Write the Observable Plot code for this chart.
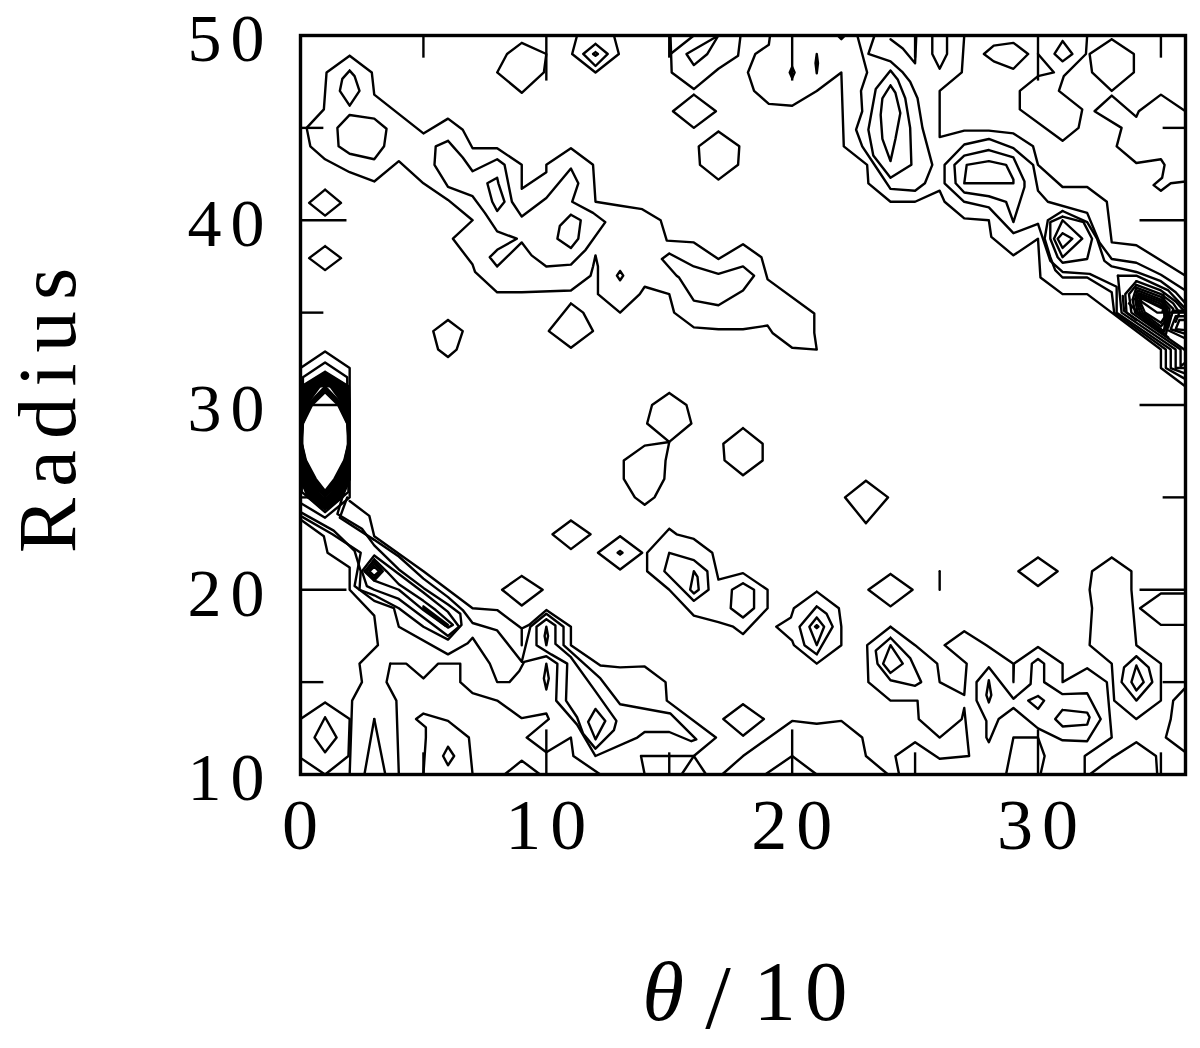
<!DOCTYPE html>
<html><head><meta charset="utf-8">
<style>html,body{margin:0;padding:0;background:#fff}</style>
<script src="https://cdn.jsdelivr.net/npm/d3@7"></script>
<script src="https://cdn.jsdelivr.net/npm/@observablehq/plot@0.6"></script>
</head><body><div id="chart"></div>
<script>
const xTickLabels=[0,10,20,30], yTickLabels=[10,20,30,40,50];
const xMajor=[10,20,30], xMinor=[5,15,25,35];
const yMajor=[20,30,40], yMinor=[15,25,35,45];

const upperBandLoops=[
[2,48.9,1.06,48,.95,46,.25,45,.4,44,1,43.3,2,42.6,3,42.1,4,43.2,5,42,6,41.1,7,40,6.2,39,7,37.6,7.1,37.2,8,36.1,9,36.1,11,36.2,11.8,37,11.9,37.5,12,38.1,12.1,37.5,12.1,36,13,35,13.8,36,14,36.4,15,36,15.2,35,16,34.2,17,34.1,18,34.1,19,34.3,19.2,33.9,20,33.1,21,33,20.9,33.9,20.9,34.95,19,36.8,18.75,38,18,38.7,17,37.9,16,38.8,14.9,38.9,14.65,40,13.9,40.6,12.95,40.8,12,41,11.9,43,11,43.9,10,43,10,42.6,9,41.7,9,43,8,43.9,7,43.9,6.6,44.9,6,45.5,5,44.7,3,46.8,2.9,48],
[6,44.3,5.5,44,5.45,43,6,41.8,7,41.3,7.5,40.4,8,39.4,8.8,39,8,38.4,7.7,38,8,37.5,9,38.8,9.4,38.1,10,37.5,11,37.6,11.6,38.4,12.4,39.9,11.9,40.4,11.05,41,11.3,42,11,42.8,10,41.2,9,40.2,8.6,41,8.3,43,8,43.3,7,42.65,6.6,43.4,6.2,44],
[2,48.1,1.7,47.65,1.6,47,2,46.2,2.4,47,2.2,47.8],
[2,45.7,1.5,45,1.55,44,2,43.6,3,43.3,3.4,44,3.5,44.95,3,45.5],
[1,41.66,.35,40.94,1,40.25,1.65,40.94],
[1,38.6,.35,37.95,1,37.3,1.65,37.95],
[9,49.6,8.4,49,8,48,9,46.9,9.9,48,10,49],
[12,49.55,11.5,49,12,48.35,12.5,49],
[12,49.1,11.9,49,12,48.9,12.1,49],
[16,46.8,15.15,45.9,16,45,16.9,45.9],
[17,44.8,16.2,44,16.25,43,17,42.2,17.8,43,17.85,44],
[20,48.3,19.9,48,20,47.7,20.1,48],
[21,49,20.95,48.5,21,47.95,21.05,48.5],
[11,40.3,10.55,39.7,10.45,39,11,38.5,11.3,39,11.4,40],
[8,42.3,7.6,42,7.8,41,8,40.5,8.3,41,8.05,42],
[13,37.25,12.87,37,13,36.75,13.13,37],
[15,38.2,14.7,37.9,15.3,37,15.4,36.9,16,35.65,17,35.4,18,36.2,18.45,37,18,37.5,17,37.1,16,37.5],
[6,34.6,5.4,34,5.6,33,6,32.6,6.35,33,6.6,34],
[11,35.5,10.1,34,11,33.1,11.9,34,11.5,35],
[24,48.1,23.4,47.1,23.1,44.9,23.3,43.5,24,42.3,24.85,43,24.8,45,24.6,46.6,24.3,47.6],
[24,47.3,23.67,46.6,23.6,45.7,23.67,44.4,24,43.2,24.2,44.4,24.4,45.8,24.2,46.9],
[27.8,49,28.2,49.45,29,49.6,29.6,49,29,48.2,28.2,48.6],
[31,49.7,30.67,49,31,48.6,31.4,49],
[33,49.8,32.1,49,32.2,48,33,47,33.9,48,33.9,49],
[28,43.8,27,43.5,26.6,43,26.65,42,27,41.5,28,41.3,28.7,41,29,39.9,29.45,41.8,29.45,42.1,29,43.4],
[28,43.2,27.1,43,27,42,29,42,29,42.2,28.7,43],
[31,39.3,30.8,39,31,38.5,31.4,39],
[31,40,30.65,39,31,38,31.8,39],
[31,40.2,30.5,39.9,30.5,39,30.8,38,31,37.7,32,37.9,32.2,39,31.85,39.9]
];
const upperBandOpen=[
[11.25,50,11.05,49,12,48,12.95,49,12.75,50],
[15.05,50,15.1,48,16,47.1,17,48.2,17.8,48.9,17.9,50],
[17,50,15.7,49,16,48.4,16.55,49,17,50],
[15.05,49,16,50],
[21.85,50,22,49.8,22.15,50],
[19.1,50,19.05,49.5,18.5,49,18.2,48,18.45,47,19.05,46.3,20,46.2,21,47,22,48,22.1,44,23.05,43,23.1,42,24,41,25,41,26,41.6,26.2,41,27,40.1,28,40,28.1,39.1,29,38.1,30,39,30.1,36.9,31,36,32,36,33,35,35,33,35,32,36,31],
[22.65,50,23.05,48,22.8,47,22.85,45.9,22.6,44.9,22.85,44,23.45,42.8,24,41.7,25,41.6,25.4,42,25.7,43,25.3,45,25.1,46.6,24.8,47.5,24.5,48,24,48.6,23.1,49,23.35,50],
[24,49.8,24.5,49.3,25,48.5,25.05,50],
[25.7,50,25.7,49,26,48.2,26.3,49,26.3,50],
[27,50,26.9,48,26,47,26,44.5,27,44.85,28,44.85,29,44.7,29.8,44,30,43,31,41.8,32,41.8,32.8,41,33,38.8,34,38.65,36,37],
[30,49,30.65,48,30,47.8,29.26,47,29.26,46,31,44.3,31.65,45,31.8,46,30.85,47,31.05,47.8,31.95,49,32,50],
[36,45.9,35,46.8,34.1,45.9,34,45.6,33,46.75,32.3,45.9,33.4,45,33.2,44,34,43.1,35,43.3,35.15,43,35.05,42.3,34.7,41.9,35,41.6,35.4,42,36,42.1],
[30,39.8,29,39.3,28,40.7,27,41,26.2,42,26.2,43,27,44.1,28,44.4,29,43.9,29.8,43,30,41.6,30.4,41,32,40.4,32.5,38.8,33,37.9,34,37.7,35,37.05,36,36.2],
[30,39.8,30.2,39,30.5,37.8,31,37.2,32.1,37.1,33.2,36.4,33.2,35,35.4,33,35.4,32,36,31.7],
[31,40.5,30.4,40,30.27,39,30.5,38,30.7,37.3,31,36.9,32,36.9,33,36.1,33.1,35,35.2,33,35.2,32,36,31.4],
[31,40.5,32,39.9,32.4,39,32.7,37.8,33,37.5,34,37.2,35,36.7,35.6,36.1,36,35.5]
];
const knotLoops=[
[33.25,37,34,37,35.3,36.2,36,35.2],
[34,36.7,33.55,36,33.6,35,35.8,33,35.8,32.1,36,32.3],
[34,36.7,35,36.2,35.6,35.6,36,35],
[33.25,37,33.4,35,35.6,33,35.6,32,36,32],
[34,36.5,33.7,36,33.8,35,35.95,33,36,32.9],
[34,36.5,35,36,35.5,35.5,35.75,35,35.6,34.5],
[33.85,35.7,34,36.35,35,35.85,35.5,35.2,35.4,34.7,35.3,34.2],
[33.85,35.7,33.95,35,35.3,33.65],
[34.05,36.2,33.95,35.75,34.05,35,35.2,33.8,35.3,34.4,35.35,35.2,35,35.7,34.05,36.2],
[34.1,36.05,34,35.7,34.15,35,35.1,34,35.25,34.5,35.25,35.2,35,35.6,34.1,36.05],
[34.12,35.95,34.05,35.7,34.25,35,35,34.25,35.2,34.6,35.2,35.15,34.95,35.5,34.12,35.95],
[34.15,35.85,34.15,35.6,34.35,35,35,34.45,35.15,34.75,35.12,35.2,34.9,35.4,34.15,35.85],
[34.18,35.8,34.2,35.6,34.85,35,35.05,35,35.1,35.2,34.18,35.8],
[35.1,36,35.15,35,35.15,34,35.2,35.2,35.1,36],
[36,35.1,35.5,35.1,35.2,34.1,36,33.6],
[36,34.8,35.6,34.8,35.4,34.1,36,33.85],
[36,34.6,35.75,34.6,35.6,34.1,36,34.05],
[33.45,35.9,33.5,35.1,34,34.6],
[33.7,35.5,34.4,34.55,35,34.1]
];
const middleLoops=[
[15,30.65,14.3,30,14.1,29,15,28,15.9,29,15.7,30],
[15,28,14,27.8,13.15,27,13.15,26,13.6,25,14,24.6,14.4,25,14.8,26,14.85,27],
[18,28.75,17.2,27.9,17.25,27,18,26.2,18.8,27,18.8,27.9],
[23,25.9,22.15,25,23,23.6,23.9,25],
[11,23.75,10.25,23,11,22.2,11.8,23],
[9,20.75,8.2,20,9,19.15,9.85,20],
[13,22.9,12.1,22,13,21.1,13.9,22],
[13,22.1,12.9,22,13,21.9,13.1,22],
[15,23.3,14.1,22,14.1,21,15,20,16,18.6,17,18.25,17.6,18,18,17.6,19,19,19,20,18,20.9,17,20.55,16.75,22,16,22.75,15.3,23],
[15,22,14.8,21,16,19.4,16.6,20,16.55,21,16,21.6],
[16,21,15.85,20,16,19.8,16.2,20,16.15,20.7],
[18,20.35,17.55,20,17.5,19,18,18.5,18.45,19,18.45,20],
[21,19.9,20.07,19,19.95,18.5,19.35,18,20,17.25,20.07,17,21,16,22,17,22,18,21.9,19],
[21,19.1,20.3,18,20.5,17,21,16.5,21.65,18,21.4,18.7],
[21,18.5,20.7,18,21,17,21.3,18],
[21,18.08,20.93,18,21,17.92,21.07,18],
[24,20.85,23.1,20,24,19.1,24.9,20],
[18,13.8,17.2,13,18,12.1,18.85,13],
[30,21.75,29.2,21,30,20.2,30.8,21]
];
const lowerRidgeLoops=[
[3,21.55,2.6,21,3,20.5,3.35,21],
[3,21.4,2.7,21,3,20.6,3.3,21],
[3,21.25,2.8,21,3,20.75,3.2,21],
[3,21.85,2.5,21,2.7,20.2,3,20,4,19.5,5,18.5,6,17.5,6.45,18,6,18.8,5,19.85,4,20.85],
[3,21.65,2.65,21,3,20.5,4,20,5,18.9,6,17.95,6.2,18.1,5.5,18.9,5,19.4,4,20.3,3.5,21],
[5,19.1,6,18.1,5.9,18.05,5,19],
[10,18.4,9.6,18,9.6,17,10.2,16.5,10.85,16,10.8,14,11.25,13.1,11.5,12.2,12,11.4,12.75,12.4,12.85,12.9,12,14.5,11,16.35,10.37,17.07,10.37,18.07],
[10,18,9.93,17.5,10,17,10.07,17.5],
[10,16,9.9,15.2,10,14.6,10.1,15.2],
[12,13.55,11.7,12.85,12,11.9,12.4,12.9],
[1,13.9,0,13,0,10.9,1,10,1.95,11,2,13],
[1,13.1,.57,12,1,11.2,1.47,12],
[6,11.5,5.8,11,6,10.5,6.25,11],
[24,17.4,23.4,16.7,23.47,16,24,15.1,25,14.8,25.25,15,24.8,16.3],
[24,17,23.7,16,24,15.5,24.5,16],
[33,21.75,32.2,21,32.1,20,32.2,19,32.1,17,33,16,33.1,14,34,13,35,14,35,16,34,17,33.8,20,33.8,21],
[34,16.4,33.5,15.8,33.4,15,34,14,34.65,15,34.5,15.8],
[34,15.9,33.8,15,34,14.55,34.3,15],
[28,15.8,27.5,15,27.5,14,27.9,12.9,27.9,12,28,11.75,28.4,13,29,13.6,30,12.5,31,11.85,32,11.8,32.55,13,32,14.4,31,14.35,30.25,15,30.25,16,30,16.25,29.75,16,29.7,14.9,29,14.1],
[28,15.1,27.9,14.3,28,13.9,28.1,14.3],
[30,14.25,29.6,14,30,13.55,30.25,14],
[31,13.5,30.7,13,31,12.6,32,12.7,32.1,13.1,32,13.35]
];
const lowerRidgeOpen=[
[2,24.8,2.8,24,3,22.9,5,21,7,19,8,18.9,9,17.9,9,17,9,17.9,9.3,18.1,10,18.9,11,18,11,17,12.2,15.9,13,15.8,14,15.85,14.85,15,14.9,14,16.9,12,16,11,15.5,10],
[1.9,25,1.6,23.9,3,22.7,4,21.8,5,20.6,6,19.6,6.6,18.9,7,18.2,8,17.8,9,16.1,9.35,18,10,18.7,10.7,18,10.7,17,12.2,15.2,13,13.8,15.05,13.3,16.1,11.9,15.9,11.8,15,12.3,14,12.3,13.7,12,12,11,11.25,12.7,10.4,14,10.45,16,10,16.4,9.1,16.1,8.9,15.6,8.5,15,8,15,7.7,16,7,17.4,6.8,17.1,6,16.5,4,18,3.8,19,3,19.4,2.2,20.2,2.45,22,1.3,23,0,24],
[1.7,25,1.5,24.1,2.5,23.3,3,22.4,4,21.1,5,20.1,6,19.2,6.5,18.7,6.55,18.1,6,17.3,5,18,4,19,3,19.7,2.4,20,2.45,21,2.2,22.1,1.35,23.2,0,24.2],
[0,23.8,.95,22.9,1.1,22,2,21.2,2,20,3,18.6,3.15,17,2.4,16,2.5,15,2.1,14,2,10],
[3,13,2.6,10],[3,13,3.45,10],
[3.65,16,4.3,16,5,15.2,5.6,16,6.5,16,6.5,15,7,14.4,8,14,9,13.05,10,13.3,10.1,13,9.2,12,10,11.2,11,12,11.1,11,12.2,10],
[3.65,16,3.5,15,3.9,14,4,10],
[5,10,5.1,12,5.1,12.55,4.7,13,5,13.3,6,12.9,6.85,12,7,10],
[8.3,10,9,10.75,9.75,10],
[17.15,10,18,11,20,12.9,21,12.75,22,12.9,22.85,12,23,11,23.9,10],
[18.9,10,20,11,21,10],
[14,10,13.85,11,16,11,16.5,10],
[26,21,26,20],
[24,18,23.05,17,23.1,15,24,14,25.1,14,25.15,13,26,12,26.9,13,27,13.6,27.2,11,26,10.85,25,11.75,24.2,11,24.35,10],
[24,18,25,17,25.9,16,26,15,27,14.3,27.1,16,26.2,17,27,17.75,27.9,17,29,16,29,15,29.02,16,30,16.9,31,16,31,15,32,15.75,32.8,15,33,12,31.9,11,31.9,10],
[28.7,10,29,12,30,12,30.27,11,30.1,10],
[32.1,10,33,10.9,34,11.75,34.8,11,34.85,10],
[36,19.8,35,19.8,34.15,19,35,18.1,36,18.1],
[36,14.7,35.5,14,35.4,13,35.2,12,36,11.2]
];
const blobOuter=[
[0,32,1,32.9,2,32,2,25,1,23.9,0,24.7],
[.1,31.5,1,32.3,1.9,31.5,1.95,25.3,1,24.2,.05,25.3,.1,31.5]
];
const blobLevelTop=[31.8,31.75,31.7,31.65,31.6,31.55,31.5,31.45,31.4,31.35,31.3,31.25,31.2,31.15,31.1,31.05,31,30.9,30.8,30.7];
const blobHalf31=[.97,.92,.87,.82,.77,.72,.67,.62,.57,.52,.47,.42,.37,.32,.27,.22,null,null,null,null];
const blobHalf30=[1,1,.99,.98,.97,.96,.95,.94,.93,.92,.9,.88,.86,.84,.81,.77,.72,.67,.6,.53];
const blobHalf29=[1,1,1,1,1,1,1,.99,.99,.99,.98,.98,.97,.97,.96,.95,.94,.93,.91,.9];
const blobHalf28=[1,1,1,1,1,1,1,1,1,1,1,.99,.99,.99,.99,.98,.98,.97,.97,.96];
const blobHalf27=[1,1,1,1,.99,.99,.98,.98,.97,.96,.95,.94,.93,.91,.89,.87,.85,.83,.8,.78];
const blobHalf26=[1,1,.99,.98,.97,.95,.93,.91,.89,.86,.83,.8,.76,.72,.67,.62,.56,.5,.44,.38];
const blobHalf25=[.7,.65,.6,.55,.5,.45,.4,.35,.3,.25,.2,.15,.1,null,null,null,null,null,null,null];
const blobLevelBottom=[24.35,24.4,24.45,24.5,24.55,24.6,24.65,24.7,24.75,24.8,24.85,24.9,24.95,25.02,25.08,25.14,25.2,25.25,25.3,25.35];

const rows=[];
let lineId=0;
function addLine(flat,closed){
  const id=lineId++;
  for(let i=0;i<flat.length;i+=2)rows.push({x:flat[i],y:flat[i+1],id});
  if(closed)rows.push({x:flat[0],y:flat[1],id});
}
[upperBandLoops,knotLoops.slice(8,13),middleLoops,lowerRidgeLoops].forEach(g=>g.forEach(f=>addLine(f,true)));
[upperBandOpen,knotLoops.slice(0,8),knotLoops.slice(13),lowerRidgeOpen].forEach(g=>g.forEach(f=>addLine(f,false)));
blobOuter.forEach(f=>addLine(f,false));
blobLevelTop.forEach((t,i)=>{
  const stations=[[31,blobHalf31[i]],[30,blobHalf30[i]],[29,blobHalf29[i]],[28,blobHalf28[i]],[27,blobHalf27[i]],[26,blobHalf26[i]],[25,blobHalf25[i]]].filter(s=>s[1]!==null);
  const f=[1,t];
  stations.forEach(s=>f.push(1+s[1],s[0]));
  f.push(1,blobLevelBottom[i]);
  stations.slice().reverse().forEach(s=>f.push(1-s[1],s[0]));
  addLine(f,true);
});

const tickRows=[];
const majX=1.87,minX=.93,majY=2.44,minY=1.2;
xMajor.forEach(v=>{tickRows.push({x1:v,y1:50,x2:v,y2:50-majY},{x1:v,y1:10,x2:v,y2:10+majY});});
xMinor.forEach(v=>{tickRows.push({x1:v,y1:50,x2:v,y2:50-minY},{x1:v,y1:10,x2:v,y2:10+minY});});
yMajor.forEach(v=>{tickRows.push({x1:0,y1:v,x2:majX,y2:v},{x1:36,y1:v,x2:36-majX,y2:v});});
yMinor.forEach(v=>{tickRows.push({x1:0,y1:v,x2:minX,y2:v},{x1:36,y1:v,x2:36-minX,y2:v});});

const serif="Liberation Serif";
const chart=Plot.plot({
  width:1200,height:1048,
  marginLeft:300,marginRight:15,marginTop:35,marginBottom:274,
  style:{fontFamily:serif,background:"white",color:"black"},
  x:{domain:[0,36],label:null},
  y:{domain:[10,50],label:null},
  marks:[
    Plot.axisX({ticks:xTickLabels,tickSize:0,tickPadding:23,fontSize:72,label:null,fontFamily:serif,dx:4}),
    Plot.axisY({ticks:yTickLabels,tickSize:0,tickPadding:27,fontSize:68,label:null,fontFamily:serif,dy:4}),
    Plot.line(rows,{x:"x",y:"y",z:"id",stroke:"black",strokeWidth:2.4,curve:"linear"}),
    Plot.link(tickRows,{x1:"x1",y1:"y1",x2:"x2",y2:"y2",stroke:"black",strokeWidth:2.4}),
    Plot.frame({stroke:"black",strokeWidth:3.4}),
    Plot.text(["Radius"],{text:d=>d,frameAnchor:"left",dx:-252,rotate:-90,fontSize:83,fontFamily:serif,textAnchor:"middle",lineAnchor:"middle"}),
    Plot.text(["θ"],{text:d=>d,frameAnchor:"bottom",dx:-80,dy:218,fontSize:85,fontStyle:"italic",fontFamily:serif,textAnchor:"middle",lineAnchor:"middle"}),
    Plot.text(["/"],{text:d=>d,frameAnchor:"bottom",dx:-25,dy:224,fontSize:92,fontFamily:serif,textAnchor:"middle",lineAnchor:"middle"}),
    Plot.text(["10"],{text:d=>d,frameAnchor:"bottom",dx:62,dy:218,fontSize:85,fontFamily:serif,textAnchor:"middle",lineAnchor:"middle"})
  ]
});
document.getElementById("chart").appendChild(chart);
d3.select(chart).selectAll("text").filter(function(){return this.textContent==="Radius"}).style("letter-spacing","11px");
d3.select(chart).selectAll("text").filter(function(){return ["0","10","20","30","40","50"].includes(this.textContent)}).style("letter-spacing","9px");
</script></body></html>
